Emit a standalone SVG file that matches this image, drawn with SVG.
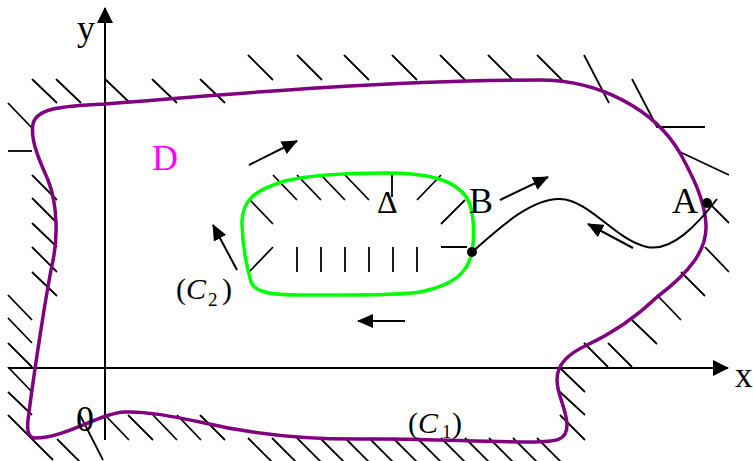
<svg xmlns="http://www.w3.org/2000/svg" width="753" height="461" viewBox="0 0 753 461">
<style>
.h{stroke:#000;stroke-width:1.8;fill:none}
.ax{stroke:#000;stroke-width:2;fill:none}
.ar{stroke:#000;stroke-width:2;fill:none;marker-end:url(#ah)}
.axa{stroke:#000;stroke-width:2;fill:none;marker-end:url(#axh)}
.t{font-family:"Liberation Serif","Times New Roman",serif;fill:#000}
</style>
<defs>
<marker id="ah" markerUnits="userSpaceOnUse" viewBox="0 0 16 14" refX="15" refY="7" markerWidth="16" markerHeight="14" orient="auto"><path d="M0,0 L16,7 L0,14 Z" fill="#000"/></marker>
<marker id="axh" markerUnits="userSpaceOnUse" viewBox="0 0 16 16" refX="15" refY="8" markerWidth="16" markerHeight="16" orient="auto"><path d="M0,0 L16,8 L0,16 Z" fill="#000"/></marker>
</defs>
<rect width="753" height="461" fill="#fff"/>
<g id="axes">
<line class="axa" x1="105" y1="440" x2="105" y2="8"/>
<line class="axa" x1="8" y1="368" x2="728" y2="368"/>
</g>
<g id="hatches" class="h">
<path d="M248,55l25,25M297,55l25,25M344,55l25,25M392,55l25,25M440,55l25,25M488,55l25,25M537,55l25,25"/>
<path d="M32,79l25,24M56,79l25,24M105,79l25,24M152,79l25,24M200,79l25,24M8,103l24,25"/>
<path d="M584,55l25,48M632,79l25,48h48M680,152l49,23"/>
<path d="M8,151h24"/>
<path d="M32,175l25,25M32,198l25,25M32,223l25,24M32,247l25,25M32,272l25,24"/>
<path d="M8,295l24,25M8,318l24,25M8,343l24,24M8,367l24,25M8,392l24,23M8,415l45,45M57,439l23,23M80,415l23,45"/>
<path d="M105,415l24,25M128,415l25,25M153,415l24,25M177,415l24,25M200,415l25,25"/>
<path d="M248,438l25,25M272,438l25,25M297,438l25,25M320,438l25,25M345,438l25,25M369,438l25,25M393,438l25,25M417,438l25,25M441,438l25,25M465,438l25,25M489,438l25,25M513,438l25,25M537,438l25,25"/>
<path d="M560,368l25,24M560,392l25,23M560,415l25,25M584,343l24,24M608,343l24,24M632,320l25,24M657,295l24,25M681,272l24,24M705,247l24,25M709,203l20,20"/>
<path d="M249,199l24,25M273,175l24,25M297,175l24,25M321,175l24,25M345,175l24,25M392,175v22M417,200l24,-25M441,224l24,-24M441,247h26M249,272l24,-25"/>
<path d="M297,247v25M321,247v25M345,247v25M369,247v25M393,247v25M417,247v25"/>
</g>
<g id="C1">
<path d="M33,124 C36,110 55,106 105,104 C250,92 400,80 540,80 C600,80 655,110 680,153 C692,175 705,200 706,225 C707,250 690,272 657,297 C635,318 615,332 587,345 C568,354 557,364 557,380 C557,395 567,410 567,425 C567,440 558,442 530,442 C480,442 420,438 370,439 C310,440 250,434 200,422 C170,416 145,411 125,412 C100,413 65,438 35,438 C28,438 27,430 28,420 C33,380 45,300 52,265 C58,240 58,205 48,180 C40,162 30,140 33,124 Z" fill="none" stroke="#800080" stroke-width="3.5"/>
</g>
<g id="C2">
<path d="M242,225 C241,200 255,190 285,181 C310,175 340,173 385,173 C430,173 455,180 467,198 C474,210 475,235 472,252 C468,272 455,285 420,292 C395,296 340,295 300,295 C270,295 255,292 251,282 C248,270 243,255 242,225 Z" fill="none" stroke="#00ff00" stroke-width="3.5"/>
</g>
<g id="curveBA">
<path d="M472,252 C495,232 530,198 560,199 C590,200 615,240 647,247 C672,252 697,225 717,199" fill="none" stroke="#000" stroke-width="2"/>
<circle cx="472" cy="252" r="5" fill="#000"/>
<circle cx="707" cy="203" r="5" fill="#000"/>
</g>
<g id="arrows">
<line class="ar" x1="249" y1="165" x2="297" y2="141"/>
<line class="ar" x1="500" y1="200" x2="548" y2="177"/>
<line class="ar" x1="237" y1="270" x2="213" y2="225"/>
<line class="ar" x1="405" y1="321" x2="358" y2="321"/>
<line class="ar" x1="633" y1="248" x2="588" y2="224"/>
</g>
<g id="labels">
<text class="t" x="77" y="40" font-size="36">y</text>
<text class="t" x="735" y="387" font-size="35">x</text>
<text class="t" x="152" y="170" font-size="36" style="fill:#ff00ff">D</text>
<text class="t" x="672" y="213" font-size="36">A</text>
<text class="t" x="469" y="213" font-size="36">B</text>
<text class="t" x="76" y="431" font-size="36">0</text>
<text class="t" x="377" y="213" font-size="32">Δ</text>
<text class="t" font-size="30" y="299"><tspan x="176">(</tspan><tspan x="186" font-style="italic">C</tspan><tspan x="208" y="306" font-size="19">2</tspan><tspan x="222" y="299">)</tspan></text>
<text class="t" font-size="30" y="433"><tspan x="408">(</tspan><tspan x="418" font-style="italic">C</tspan><tspan x="442" y="438" font-size="19">1</tspan><tspan x="452" y="433">)</tspan></text>
</g>
</svg>
